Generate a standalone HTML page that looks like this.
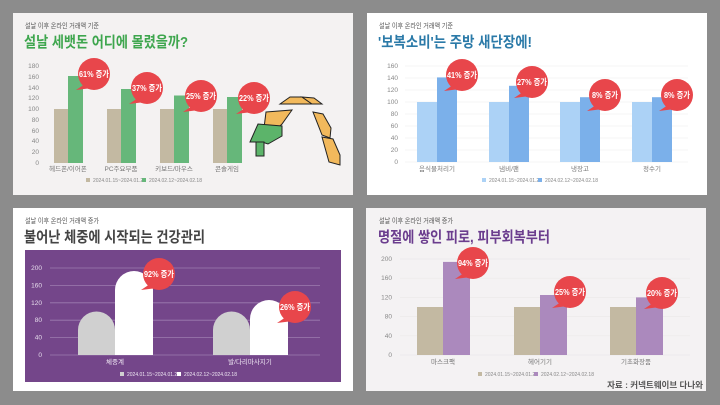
<!DOCTYPE html>
<html><head><meta charset="utf-8">
<style>
html,body{margin:0;padding:0;background:#8c8c8c;}
svg{display:block;font-family:"Liberation Sans","Noto Sans CJK KR",sans-serif;}
.ax{font-size:6.5px;fill:#888;}
.xl{font-size:6.5px;fill:#777;}
.lg{font-size:5px;fill:#888;}
.sub{font-size:7px;fill:#555;}
.bt{font-size:8.5px;fill:#fff;font-weight:bold;}
</style></head><body>
<svg width="720" height="405" viewBox="0 0 720 405">
<rect width="720" height="405" fill="#8c8c8c"/>
<defs>
<g id="bub"><circle cx="0" cy="0" r="16" fill="#e8464b"/><polygon points="-9,10 -18,16 -2,14" fill="#e8464b"/></g>
</defs>

<!-- Panel 1 -->
<rect x="13" y="13" width="340" height="182" fill="#f4f2f2"/>
<text x="25" y="28" class="sub" textLength="74" lengthAdjust="spacingAndGlyphs">설날 이후 온라인 거래액 기준</text>
<text x="24" y="47" style="font-size:15px;font-weight:bold;fill:#3ea64e" textLength="164" lengthAdjust="spacingAndGlyphs">설날 세뱃돈 어디에 몰렸을까?</text>
<g class="ax" text-anchor="end">
<text x="39" y="165">0</text><text x="39" y="154">20</text><text x="39" y="143">40</text><text x="39" y="133">60</text><text x="39" y="122">80</text><text x="39" y="111">100</text><text x="39" y="100">120</text><text x="39" y="90">140</text><text x="39" y="79">160</text><text x="39" y="68">180</text>
</g>
<g fill="#c3b9a2"><rect x="54" y="109" width="14" height="54"/><rect x="107" y="109" width="14" height="54"/><rect x="160" y="109" width="14" height="54"/><rect x="213" y="109" width="14" height="54"/></g>
<g fill="#66b77a"><rect x="68" y="76" width="15" height="87"/><rect x="121" y="89" width="15" height="74"/><rect x="174" y="95.5" width="15" height="67.5"/><rect x="227" y="97" width="15" height="66"/></g>
<use href="#bub" x="94" y="74"/><text x="94" y="77" class="bt" text-anchor="middle" textLength="30" lengthAdjust="spacingAndGlyphs">61% 증가</text>
<use href="#bub" x="147" y="88"/><text x="147" y="91" class="bt" text-anchor="middle" textLength="30" lengthAdjust="spacingAndGlyphs">37% 증가</text>
<use href="#bub" x="201" y="96"/><text x="201" y="99" class="bt" text-anchor="middle" textLength="30" lengthAdjust="spacingAndGlyphs">25% 증가</text>
<use href="#bub" x="254" y="98"/><text x="254" y="101" class="bt" text-anchor="middle" textLength="30" lengthAdjust="spacingAndGlyphs">22% 증가</text>
<g class="xl" text-anchor="middle"><text x="68" y="171">헤드폰/이어폰</text><text x="121" y="171">PC주요부품</text><text x="174" y="171">키보드/마우스</text><text x="227" y="171">콘솔게임</text></g>
<rect x="86" y="178" width="4" height="4" fill="#c3b9a2"/><text x="93" y="182" class="lg">2024.01.15~2024.01.21</text>
<rect x="142" y="178" width="4" height="4" fill="#66b77a"/><text x="149" y="182" class="lg">2024.02.12~2024.02.18</text>
<!-- arch -->
<g stroke="#222" stroke-width="1" fill="#f2b95c">
<polygon points="280,104 290,97 302,97 312,104 296,104"/>
<polygon points="302,97 314,98 322,104 312,104"/>
<polygon points="266,112 292,110 282,124 276,130 264,128"/>
<polygon points="313,112 323,114 331,128 330,138 322,135"/>
<polygon points="322,137 333,139 340,155 340,165 329,162"/>
</g>
<g stroke="#222" stroke-width="1" fill="#5cb46a">
<polygon points="250,142 258,124 282,126 282,136 268,144 262,142"/>
<rect x="256" y="142" width="8" height="14"/>
</g>

<!-- Panel 2 -->
<rect x="367" y="13" width="340" height="182" fill="#ffffff"/>
<text x="379" y="28" class="sub" textLength="74" lengthAdjust="spacingAndGlyphs">설날 이후 온라인 거래액 기준</text>
<text x="378" y="47" style="font-size:15px;font-weight:bold;fill:#2b7aa8" textLength="154" lengthAdjust="spacingAndGlyphs">'보복소비'는 주방 새단장에!</text>
<g stroke="#f2f2f2" stroke-width="0.7"><line x1="405" y1="66" x2="688" y2="66"/><line x1="405" y1="78" x2="688" y2="78"/><line x1="405" y1="90" x2="688" y2="90"/><line x1="405" y1="102" x2="688" y2="102"/><line x1="405" y1="114" x2="688" y2="114"/><line x1="405" y1="126" x2="688" y2="126"/><line x1="405" y1="138" x2="688" y2="138"/><line x1="405" y1="150" x2="688" y2="150"/><line x1="405" y1="162" x2="688" y2="162"/></g>
<g class="ax" text-anchor="end">
<text x="398" y="164">0</text><text x="398" y="152">20</text><text x="398" y="140">40</text><text x="398" y="128">60</text><text x="398" y="116">80</text><text x="398" y="104">100</text><text x="398" y="92">120</text><text x="398" y="80">140</text><text x="398" y="68">160</text>
</g>
<g fill="#acd2f6"><rect x="417" y="102" width="20" height="60"/><rect x="489" y="102" width="20" height="60"/><rect x="560" y="102" width="20" height="60"/><rect x="632" y="102" width="20" height="60"/></g>
<g fill="#7bb0ea"><rect x="437" y="77.4" width="20" height="84.6"/><rect x="509" y="85.8" width="20" height="76.2"/><rect x="580" y="97.2" width="20" height="64.8"/><rect x="652" y="97.2" width="20" height="64.8"/></g>
<use href="#bub" x="462" y="75"/><text x="462" y="78" class="bt" text-anchor="middle" textLength="30" lengthAdjust="spacingAndGlyphs">41% 증가</text>
<use href="#bub" x="532" y="82"/><text x="532" y="85" class="bt" text-anchor="middle" textLength="30" lengthAdjust="spacingAndGlyphs">27% 증가</text>
<use href="#bub" x="605" y="95"/><text x="605" y="98" class="bt" text-anchor="middle" textLength="26" lengthAdjust="spacingAndGlyphs">8% 증가</text>
<use href="#bub" x="677" y="95"/><text x="677" y="98" class="bt" text-anchor="middle" textLength="26" lengthAdjust="spacingAndGlyphs">8% 증가</text>
<g class="xl" text-anchor="middle"><text x="437" y="171">음식물처리기</text><text x="509" y="171">냄비/팬</text><text x="580" y="171">냉장고</text><text x="652" y="171">정수기</text></g>
<rect x="482" y="178" width="4" height="4" fill="#acd2f6"/><text x="489" y="182" class="lg">2024.01.15~2024.01.21</text>
<rect x="538" y="178" width="4" height="4" fill="#7bb0ea"/><text x="545" y="182" class="lg">2024.02.12~2024.02.18</text>

<!-- Panel 3 -->
<rect x="13" y="208" width="340" height="183" fill="#ffffff"/>
<text x="25" y="223" class="sub" textLength="74" lengthAdjust="spacingAndGlyphs">설날 이후 온라인 거래액 증가</text>
<text x="24" y="242" style="font-size:15px;font-weight:bold;fill:#444" textLength="181" lengthAdjust="spacingAndGlyphs">불어난 체중에 시작되는 건강관리</text>
<rect x="25" y="250" width="316" height="132" fill="#74468a"/>
<g stroke="#9d7cb0" stroke-width="0.8"><line x1="50" y1="268" x2="320" y2="268"/><line x1="50" y1="285.4" x2="320" y2="285.4"/><line x1="50" y1="302.8" x2="320" y2="302.8"/><line x1="50" y1="320.2" x2="320" y2="320.2"/><line x1="50" y1="337.6" x2="320" y2="337.6"/><line x1="50" y1="355" x2="320" y2="355"/></g>
<g font-size="6.5" fill="#e6dcec" text-anchor="end">
<text x="42" y="357">0</text><text x="42" y="339.6">40</text><text x="42" y="322.2">80</text><text x="42" y="304.8">120</text><text x="42" y="287.4">160</text><text x="42" y="270">200</text>
</g>
<path d="M78,355 V330 A18.5,18.5 0 0 1 115,330 V355 Z" fill="#d0d0d0"/>
<path d="M115,355 V290 A19,19 0 0 1 153,290 V355 Z" fill="#ffffff"/>
<path d="M213,355 V330 A18.5,18.5 0 0 1 250,330 V355 Z" fill="#d0d0d0"/>
<path d="M250,355 V319 A19,19 0 0 1 288,319 V355 Z" fill="#ffffff"/>
<use href="#bub" x="159" y="274"/><text x="159" y="277" class="bt" text-anchor="middle" textLength="30" lengthAdjust="spacingAndGlyphs">92% 증가</text>
<use href="#bub" x="295" y="307"/><text x="295" y="310" class="bt" text-anchor="middle" textLength="30" lengthAdjust="spacingAndGlyphs">26% 증가</text>
<g font-size="6.5" fill="#f0e8f4" text-anchor="middle"><text x="115" y="364">체중계</text><text x="250" y="364">발/다리마사지기</text></g>
<rect x="120" y="372" width="4" height="4" fill="#d0d0d0"/><text x="127" y="376" font-size="5" fill="#f0e8f4">2024.01.15~2024.01.21</text>
<rect x="177" y="372" width="4" height="4" fill="#fff"/><text x="184" y="376" font-size="5" fill="#f0e8f4">2024.02.12~2024.02.18</text>

<!-- Panel 4 -->
<rect x="366" y="208" width="340" height="183" fill="#f4f2f3"/>
<text x="379" y="223" class="sub" textLength="74" lengthAdjust="spacingAndGlyphs">설날 이후 온라인 거래액 증가</text>
<text x="378" y="242" style="font-size:15px;font-weight:bold;fill:#6b3d8e" textLength="172" lengthAdjust="spacingAndGlyphs">명절에 쌓인 피로, 피부회복부터</text>
<g stroke="#ebe9ea" stroke-width="0.7"><line x1="400" y1="259" x2="690" y2="259"/><line x1="400" y1="278.2" x2="690" y2="278.2"/><line x1="400" y1="297.4" x2="690" y2="297.4"/><line x1="400" y1="316.6" x2="690" y2="316.6"/><line x1="400" y1="335.8" x2="690" y2="335.8"/><line x1="400" y1="355" x2="690" y2="355"/></g>
<g class="ax" text-anchor="end">
<text x="392" y="357">0</text><text x="392" y="337.8">40</text><text x="392" y="318.6">80</text><text x="392" y="299.4">120</text><text x="392" y="280.2">160</text><text x="392" y="261">200</text>
</g>
<g fill="#c3b9a2"><rect x="417" y="307" width="26" height="48"/><rect x="514" y="307" width="26" height="48"/><rect x="610" y="307" width="26" height="48"/></g>
<g fill="#ab89bd"><rect x="443" y="261.9" width="27" height="93.1"/><rect x="540" y="295" width="27" height="60"/><rect x="636" y="297.4" width="27" height="57.6"/></g>
<use href="#bub" x="473" y="263"/><text x="473" y="266" class="bt" text-anchor="middle" textLength="30" lengthAdjust="spacingAndGlyphs">94% 증가</text>
<use href="#bub" x="570" y="292"/><text x="570" y="295" class="bt" text-anchor="middle" textLength="30" lengthAdjust="spacingAndGlyphs">25% 증가</text>
<use href="#bub" x="662" y="293"/><text x="662" y="296" class="bt" text-anchor="middle" textLength="30" lengthAdjust="spacingAndGlyphs">20% 증가</text>
<g class="xl" text-anchor="middle"><text x="443" y="364">마스크팩</text><text x="540" y="364">헤어기기</text><text x="636" y="364">기초화장품</text></g>
<rect x="478" y="372" width="4" height="4" fill="#c3b9a2"/><text x="485" y="376" class="lg">2024.01.15~2024.01.21</text>
<rect x="534" y="372" width="4" height="4" fill="#ab89bd"/><text x="541" y="376" class="lg">2024.02.12~2024.02.18</text>
<text x="703" y="388" text-anchor="end" font-size="8.5" font-weight="bold" fill="#555">자료 : 커넥트웨이브 다나와</text>
</svg>
</body></html>
